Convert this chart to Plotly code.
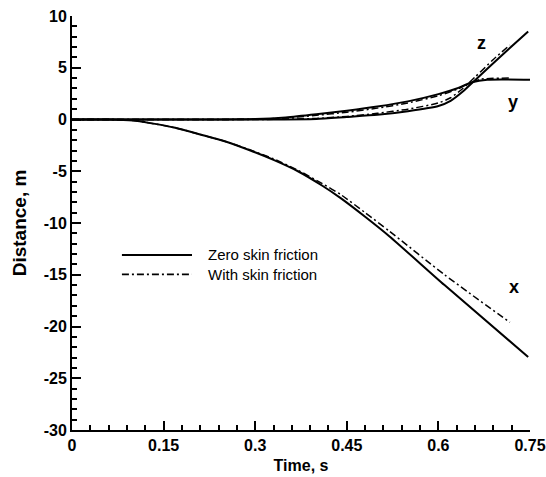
import plotly.graph_objects as go

# x-distance (zero skin friction / with skin friction)
t_x_zero = [0, 0.06, 0.1, 0.128, 0.169, 0.21, 0.25, 0.29, 0.33, 0.37, 0.41, 0.44, 0.48, 0.52, 0.61, 0.747]
x_zero = [0, 0, -0.1, -0.35, -0.8, -1.45, -2.1, -2.95, -3.9, -5.0, -6.4, -7.6, -9.4, -11.3, -16.0, -22.95]
t_x_fric = [0, 0.06, 0.1, 0.128, 0.169, 0.21, 0.25, 0.29, 0.33, 0.37, 0.41, 0.44, 0.48, 0.52, 0.61, 0.717]
x_fric = [0, 0, -0.1, -0.35, -0.8, -1.45, -2.1, -2.9, -3.8, -4.9, -6.2, -7.25, -9.0, -10.8, -15.0, -19.6]

# y-distance
t_y_zero = [0, 0.2, 0.3, 0.35, 0.4, 0.45, 0.5, 0.55, 0.6, 0.63, 0.655, 0.68, 0.75]
y_zero = [0, 0, 0.05, 0.2, 0.5, 0.85, 1.25, 1.75, 2.45, 3.0, 3.6, 3.85, 3.85]
t_y_fric = [0, 0.2, 0.3, 0.35, 0.4, 0.45, 0.5, 0.55, 0.6, 0.63, 0.65, 0.67, 0.717]
y_fric = [0, 0, 0.03, 0.15, 0.4, 0.7, 1.1, 1.6, 2.3, 2.9, 3.5, 3.9, 4.0]

# z-distance
t_z_zero = [0, 0.3, 0.4, 0.45, 0.5, 0.55, 0.6, 0.62, 0.64, 0.66, 0.7, 0.747]
z_zero = [0, 0, 0.05, 0.25, 0.45, 0.8, 1.3, 1.8, 2.7, 3.8, 6.0, 8.5]
t_z_fric = [0, 0.3, 0.4, 0.45, 0.5, 0.55, 0.6, 0.62, 0.64, 0.66, 0.69, 0.717]
z_fric = [0, 0, 0.1, 0.3, 0.6, 1.0, 1.6, 2.1, 3.0, 4.1, 5.8, 7.2]

y_tick_vals = [10, 5, 0, -5, -10, -15, -20, -25, -30]
y_tick_labels = ["10", "5", "0", "-5", "-10", "-15", "-20", "-25", "-30"]
x_tick_vals = [0, 0.15, 0.3, 0.45, 0.6, 0.75]
x_tick_labels = ["0", "0.15", "0.3", "0.45", "0.6", "0.75"]

legend_names = ["Zero skin friction", "With skin friction"]
curve_labels = [("z", 0.671, 7.4), ("y", 0.722, 1.7), ("x", 0.724, -16.2)]

FONT = "Liberation Sans, Arial, sans-serif"
DASHDOT = "7px,3px,2px,3px"

fig = go.Figure()
solid = dict(color="black", width=2, shape="spline", smoothing=0.6)
dashed = dict(color="black", width=1.5, dash=DASHDOT, shape="spline", smoothing=0.6)

for tt, vv in [(t_x_zero, x_zero), (t_y_zero, y_zero), (t_z_zero, z_zero)]:
    fig.add_trace(go.Scatter(x=tt, y=vv, mode="lines", line=solid, showlegend=False))
for tt, vv in [(t_x_fric, x_fric), (t_y_fric, y_fric), (t_z_fric, z_fric)]:
    fig.add_trace(go.Scatter(x=tt, y=vv, mode="lines", line=dashed, showlegend=False))

# manual legend
leg_rows = [0.423, 0.376]
for i, name in enumerate(legend_names):
    ln = dict(color="black", width=2) if i == 0 else dict(color="black", width=1.8, dash=DASHDOT)
    fig.add_shape(type="line", xref="paper", yref="paper", x0=0.109, x1=0.262,
                  y0=leg_rows[i], y1=leg_rows[i], line=ln)
    fig.add_annotation(xref="paper", yref="paper", x=0.293, y=leg_rows[i], text=name,
                       showarrow=False, xanchor="left", yanchor="middle",
                       font=dict(family=FONT, size=15, color="black"))

for lab, tx, ty in curve_labels:
    fig.add_annotation(x=tx, y=ty, text=lab, showarrow=False,
                       font=dict(family=FONT, size=18, color="black", weight="bold"))

axis_common = dict(showline=True, linecolor="black", linewidth=2, ticks="inside",
                   ticklen=9, tickwidth=2, tickcolor="black", showgrid=False, zeroline=False,
                   automargin=False,
                   tickfont=dict(family=FONT, size=16, color="black", weight="bold"))

fig.update_xaxes(range=[0, 0.75], tickmode="array", tickvals=x_tick_vals, ticktext=x_tick_labels,
                 minor=dict(ticks="inside", ticklen=5, tickwidth=1.5, tickcolor="black",
                            tick0=0, dtick=0.03),
                 title=dict(text="Time, s", font=dict(family=FONT, size=16, color="black", weight="bold"), standoff=7),
                 **axis_common)
fig.update_yaxes(range=[-30, 10], tickmode="array", tickvals=y_tick_vals, ticktext=y_tick_labels,
                 minor=dict(ticks="inside", ticklen=5, tickwidth=1.5, tickcolor="black",
                            tick0=0, dtick=1),
                 title=dict(text="Distance, m", font=dict(family=FONT, size=19, color="black", weight="bold"), standoff=12),
                 **axis_common)

fig.update_layout(width=546, height=477, margin=dict(l=72, r=16, t=16, b=47),
                  plot_bgcolor="white", paper_bgcolor="white", showlegend=False)

fig.write_html("out.html")
